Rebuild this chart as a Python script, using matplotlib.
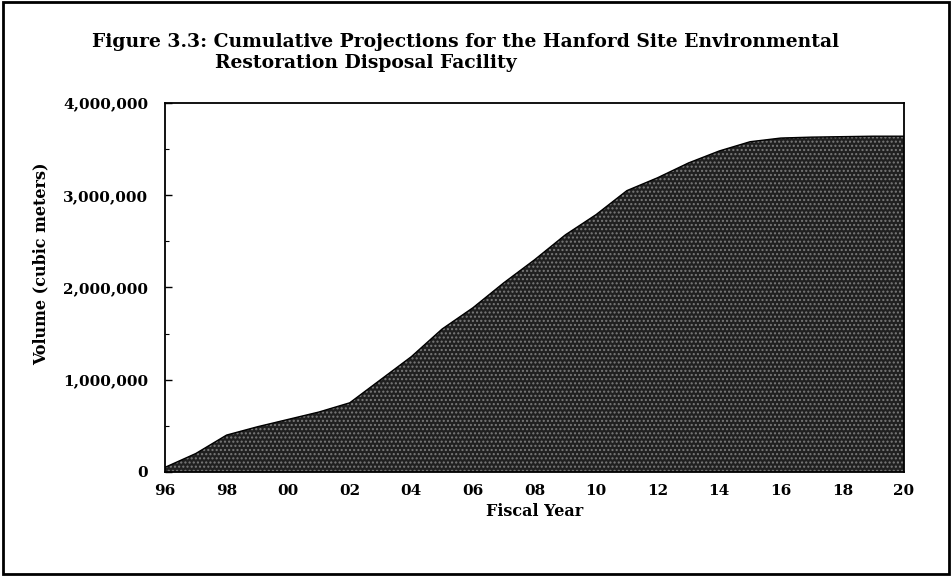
import matplotlib
matplotlib.use("Agg")
import matplotlib.pyplot as plt
from matplotlib.patches import Rectangle
from matplotlib.ticker import FuncFormatter, MultipleLocator

# -----------------------------
# Data
# -----------------------------
years = list(range(1996, 2021))
volume = [
    50000, 200000, 400000, 490000, 570000, 650000, 750000,
    1000000, 1250000, 1550000, 1780000, 2050000, 2300000,
    2570000, 2790000, 3050000, 3190000, 3350000, 3480000,
    3580000, 3620000, 3630000, 3635000, 3640000, 3640000,
]
xtick_years = list(range(1996, 2021, 2))

title_line1 = "Figure 3.3: Cumulative Projections for the Hanford Site Environmental"
title_line2 = "Restoration Disposal Facility"

plt.rcParams["font.family"] = ["DejaVu Serif"]
plt.rcParams["font.weight"] = "bold"

fig = plt.figure(figsize=(9.52, 5.76), dpi=100)
ax = fig.add_axes([0.1733, 0.1806, 0.7763, 0.6406])

# -----------------------------
# Area fill (dark stipple)
# -----------------------------
ax.fill_between(years, volume, 0, facecolor="#202020", edgecolor="#7a7a7a",
                hatch="....", linewidth=0)
ax.plot(years, volume, color="black", linewidth=1)

ax.set_xlim(1996, 2020)
ax.set_ylim(0, 4000000)
ax.set_xticks(xtick_years)
ax.set_xticklabels(["%02d" % (y % 100) for y in xtick_years])
ax.yaxis.set_major_locator(MultipleLocator(1000000))
ax.yaxis.set_minor_locator(MultipleLocator(500000))
ax.yaxis.set_major_formatter(FuncFormatter(lambda v, p: "{:,.0f}".format(v)))

ax.tick_params(axis="x", length=0, pad=9, labelsize=11)
ax.tick_params(axis="y", which="major", direction="in", length=5, width=1,
               labelsize=11, pad=12)
ax.tick_params(axis="y", which="minor", direction="in", length=3, width=0.8)

for side in ["left", "bottom", "top", "right"]:
    ax.spines[side].set_linewidth(1.3)

ax.set_xlabel("Fiscal Year", fontsize=11.5, fontweight="bold", va="top")
ax.xaxis.set_label_coords(0.5, -0.085)
ax.set_ylabel("Volume (cubic meters)", fontsize=11.5, fontweight="bold")
ax.yaxis.set_label_coords(-0.1556, 0.5637)

fig.text(0.097, 0.9184, title_line1, fontsize=13.5, fontweight="bold",
         ha="left", va="baseline")
fig.text(0.2258, 0.8819, title_line2, fontsize=13.5, fontweight="bold",
         ha="left", va="baseline")

# outer frame
fig.patches.append(Rectangle((0.003, 0.004), 0.994, 0.992, transform=fig.transFigure,
                             fill=False, edgecolor="black", linewidth=2))

fig.savefig("out.png", dpi=100)
